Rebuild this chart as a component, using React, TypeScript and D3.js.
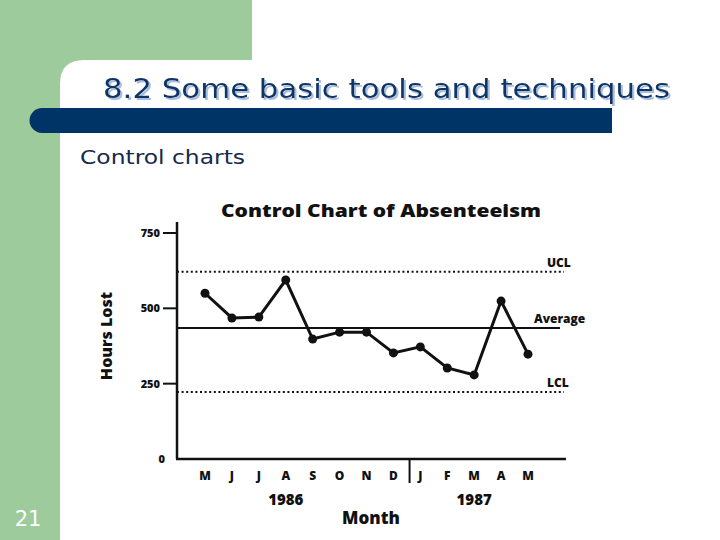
import React from "react";
import * as d3 from "d3";

// values
const months = ["M", "J", "J", "A", "S", "O", "N", "D", "J", "F", "M", "A", "M"];
const hoursLost = [550, 468, 471, 594, 398, 421, 421, 352, 372, 302, 279, 524, 348];
const yTicks = [0, 250, 500, 750];
const limits = [
  { name: "UCL", value: 621, dotted: true },
  { name: "Average", value: 435, dotted: false },
  { name: "LCL", value: 222, dotted: true },
];
const years = [
  { label: "1986", at: 3 },
  { label: "1987", at: 10 },
];

const W = 720;
const H = 540;
const chartFont = "'Open Sans', 'DejaVu Sans', sans-serif";

export default function App() {
  const x = d3.scaleLinear().domain([0, months.length - 1]).range([205, 528]);
  const y = d3.scaleLinear().domain([0, 750]).range([459, 233]);
  const axisX0 = 177;
  const axisX1 = 566;

  const line = d3
    .line<number>()
    .x((_, i) => x(i))
    .y((d) => y(d));

  return (
    <svg
      width={W}
      height={H}
      style={{ position: "absolute", left: 0, top: 0, background: "#fff" }}
    >
      <defs>
        <filter id="titleShadow" x="-5%" y="-20%" width="110%" height="150%">
          <feDropShadow dx={2} dy={2} stdDeviation={0.4} floodColor="#a9bfdd" floodOpacity={1} />
        </filter>
      </defs>

      {/* slide background */}
      <rect x={0} y={0} width={W} height={H} fill="#ffffff" />
      <rect x={0} y={0} width={252} height={60} fill="#9dcb9b" />
      <rect x={0} y={0} width={60} height={H} fill="#9dcb9b" />
      <path d="M60,84 Q60,60 84,60 L60,60 Z" fill="#9dcb9b" />

      {/* title */}
      <text
        x={103}
        y={98}
        fontFamily="'DejaVu Sans', sans-serif"
        fontSize={26}
        fill="#0f3466"
        textLength={567}
        lengthAdjust="spacingAndGlyphs"
        filter="url(#titleShadow)"
      >
        8.2 Some basic tools and techniques
      </text>
      <path
        d="M42,108 L612,108 L612,133 L42,133 A12.5,12.5 0 0 1 42,108 Z"
        fill="#003466"
      />
      <text
        x={80}
        y={164}
        fontFamily="'DejaVu Sans', sans-serif"
        fontSize={20}
        fill="#15294c"
        textLength={165}
        lengthAdjust="spacingAndGlyphs"
      >
        Control charts
      </text>
      <text
        x={28}
        y={526}
        textAnchor="middle"
        fontFamily="'DejaVu Sans', sans-serif"
        fontSize={21}
        fill="#ffffff"
      >
        21
      </text>

      {/* chart */}
      <g fontFamily={chartFont} fontWeight="bold" fill="#111">
        <text
          x={381}
          y={217}
          textAnchor="middle"
          fontSize={18}
          fontWeight={800}
          textLength={320}
          lengthAdjust="spacingAndGlyphs"
        >
          Control Chart of Absenteeism
        </text>

        {/* y axis */}
        <line x1={axisX0} x2={axisX0} y1={222} y2={y(0)} stroke="#111" strokeWidth={2.5} />
        {yTicks.map((t) => (
          <g key={t}>
            {t > 0 && (
              <line x1={163} x2={axisX0} y1={y(t)} y2={y(t)} stroke="#111" strokeWidth={2} />
            )}
            <text x={t > 0 ? 160 : 165} y={y(t) + 4} textAnchor="end" fontSize={11} fontWeight={800}>
              {t}
            </text>
          </g>
        ))}
        <text
          transform={`translate(112,${336}) rotate(-90)`}
          textAnchor="middle"
          fontSize={16}
          fontWeight={800}
        >
          Hours Lost
        </text>

        {/* x axis */}
        <line x1={axisX0 - 1} x2={axisX1} y1={y(0)} y2={y(0)} stroke="#111" strokeWidth={2.5} />
        <line x1={x(7.6)} x2={x(7.6)} y1={y(0)} y2={y(0) + 24} stroke="#111" strokeWidth={2} />
        {months.map((m, i) => (
          <text key={i} x={x(i)} y={480} textAnchor="middle" fontSize={12} fontWeight={800}>
            {m}
          </text>
        ))}
        {years.map((yr) => (
          <text key={yr.label} x={x(yr.at)} y={505} textAnchor="middle" fontSize={15} fontWeight={800}>
            {yr.label}
          </text>
        ))}
        <text x={371} y={524} textAnchor="middle" fontSize={17} fontWeight={800}>
          Month
        </text>

        {/* control limits */}
        {limits.map((l) => (
          <g key={l.name}>
            <line
              x1={axisX0}
              x2={l.dotted ? 564 : 560}
              y1={y(l.value)}
              y2={y(l.value)}
              stroke="#111"
              strokeWidth={2}
              strokeDasharray={l.dotted ? "2 2.6" : undefined}
            />
            <text
              x={l.name === "Average" ? 534 : 547}
              y={y(l.value) - 5}
              fontSize={12}
              fontWeight={800}
            >
              {l.name}
            </text>
          </g>
        ))}

        {/* series */}
        <path d={line(hoursLost) ?? ""} fill="none" stroke="#111" strokeWidth={3} />
        {hoursLost.map((v, i) => (
          <circle key={i} cx={x(i)} cy={y(v)} r={4.5} fill="#111" />
        ))}
      </g>
    </svg>
  );
}
